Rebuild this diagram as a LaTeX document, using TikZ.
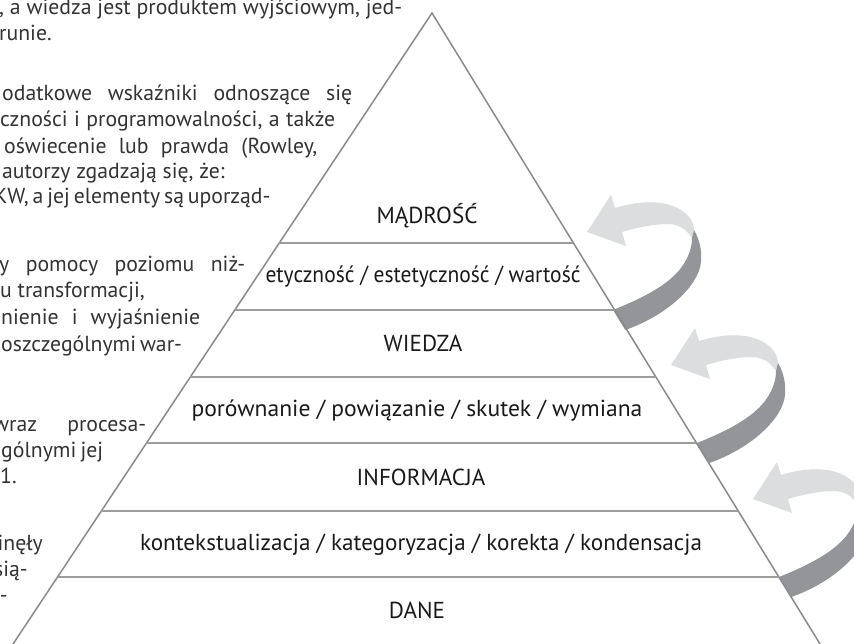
\documentclass[tikz,border=0pt]{standalone}
\usepackage{fontspec}
\setmainfont{PT Sans}
\newlength{\kwid}
\definecolor{bodygray}{HTML}{333333}
\definecolor{lblblack}{HTML}{1A1A1A}
\definecolor{arrlightc}{HTML}{DCDDDE}
\definecolor{arrdarkc}{HTML}{939598}
\definecolor{edgec}{HTML}{8A8A8A}
\definecolor{sepc}{HTML}{9C9C9C}
\AtBeginDocument{%
  \settowidth{\kwid}{\fontsize{20}{24}\selectfont kontekstualizacja / kategoryzacja / korekta / kondensacja}%
  \pgfmathsetmacro{\lsz}{20*562/\kwid}%
  \pgfmathsetmacro{\bsz}{0.94*\lsz}%
  \global\let\lsz\lsz \global\let\bsz\bsz}
\newcommand{\pyrarrow}[1]{%
  \begin{scope}[shift={#1}]
    \fill[arrlight] (-26,-78) -- (-2,-115) -- (2,-102)
      .. controls (25,-109) and (50,-111) .. (68,-100)
      .. controls (77,-94) and (81,-87) .. (81,-80)
      -- (79,-72)
      .. controls (74,-80) and (66,-86) .. (55,-86)
      .. controls (40,-86) and (22,-82) .. (9,-78)
      -- (13,-64) -- cycle;
    \fill[arrdark] (81,-80)
      .. controls (87,-70) and (89,-58) .. (88,-48)
      .. controls (86,-25) and (55,5) .. (12.3,20)
      -- (0,0)
      .. controls (30,-12) and (55,-25) .. (68,-42)
      .. controls (76,-53) and (79,-63) .. (79,-72) -- cycle;
  \end{scope}}
\begin{document}
\begin{tikzpicture}[x=1pt,y=-1pt,
  lbl/.style={font=\fontsize{\lsz}{\lsz}\selectfont, text=lblblack, inner sep=0pt, anchor=base},
  body/.style={font=\fontsize{\bsz}{\bsz}\selectfont, text=bodygray, inner sep=0pt},
  arrlight/.style={fill=arrlightc},
  arrdark/.style={fill=arrdarkc},
  pedge/.style={draw=edgec, line width=1.5pt, line join=miter},
  psep/.style={draw=sepc, line width=2pt}]
\useasboundingbox (0,0) rectangle (854,644);
\fill[white] (0,0) rectangle (854,644);
\clip (0,0) rectangle (854,644);

% arrows
\pyrarrow{(613,310)}
\pyrarrow{(697,443)}
\pyrarrow{(779,577)}

% pyramid
\coordinate (apex) at (432,13);
\coordinate (bl) at (6.4,654);
\coordinate (br) at (826.2,654);
\draw[pedge] (bl) -- (apex) -- (br);
\foreach \yy in {243,310,377,443,511,577}
  \draw[psep] ({432-0.664*(\yy-13)},\yy) -- ({432+0.615*(\yy-13)},\yy);

% level labels
\node[lbl] (madrosc) at (427,224) {MĄDROŚĆ};
\node[lbl] (etyka) at (423,283) {\scalebox{0.93}[1]{etyczność / estetyczność / wartość}};
\node[lbl] (wiedza) at (423,351.5) {WIEDZA};
\node[lbl] (porown) at (417,416) {\scalebox{1.02}[1]{porównanie / powiązanie / skutek / wymiana}};
\node[lbl] (info) at (421,485) {INFORMACJA};
\node[lbl] (kontekst) at (421,550) {kontekstualizacja / kategoryzacja / korekta / kondensacja};
\node[lbl] (dane) at (417,618.5) {DANE};

% body text
\node[body, anchor=base west] (b1) at (-1,15) {\makebox[403pt][s]{, a wiedza jest produktem wyjściowym, jed-}};
\node[body, anchor=base west] (b2) at (-1,41) {runie.};
\node[body, anchor=base west] (b3) at (2,101) {\makebox[350pt][s]{odatkowe wskaźniki odnoszące się}};
\node[body, anchor=base west] (b4) at (0,127) {\makebox[335pt][s]{czności i programowalności, a także}};
\node[body, anchor=base west] (b5) at (4,154) {\makebox[313pt][s]{oświecenie lub prawda (Rowley,}};
\node[body, anchor=base west] (b6) at (2,179) {autorzy zgadzają się, że:};
\node[body, anchor=base west] (b7) at (-6,204) {\makebox[254pt][s]{KW, a jej elementy są uporząd-}};
\node[body, anchor=base west] (b8) at (-1,272) {\makebox[246pt][s]{y pomocy poziomu niż-}};
\node[body, anchor=base west] (b9) at (0,298) {u transformacji,};
\node[body, anchor=base west] (b10) at (1,325) {\makebox[199pt][s]{nienie i wyjaśnienie}};
\node[body, anchor=base west] (b11) at (1,351) {\makebox[177pt][s]{oszczególnymi war-}};
\node[body, anchor=base west] (b12) at (-7,431) {\makebox[153pt][s]{wraz procesa-}};
\node[body, anchor=base west] (b13) at (1,457) {\makebox[102pt][s]{gólnymi jej}};
\node[body, anchor=base west] (b14) at (0,483) {1.};
\node[body, anchor=base east] (b15) at (43,550) {inęły};
\node[body, anchor=base east] (b16) at (28,576) {sią-};
\node[body, anchor=base east] (b17) at (8,602) {-};
\end{tikzpicture}
\end{document}
